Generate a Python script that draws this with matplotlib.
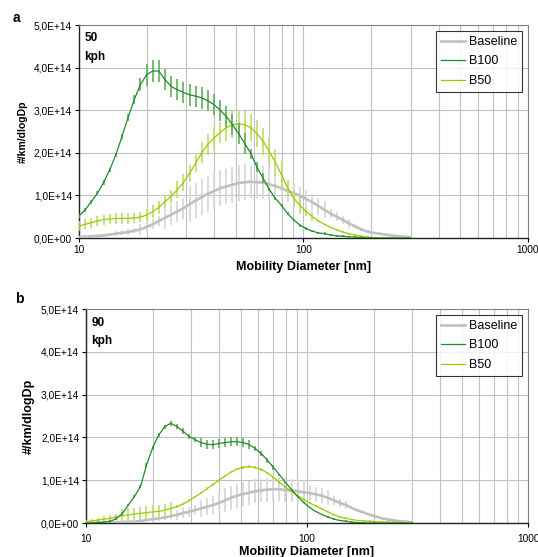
import matplotlib
matplotlib.use("Agg")
import matplotlib.pyplot as plt

plt.rcParams['font.family'] = ['Liberation Sans', 'DejaVu Sans']

# mobility diameter bins [nm]
diam = [10.0, 10.65, 11.34, 12.08, 12.86, 13.70, 14.59, 15.54, 16.55, 17.63,
        18.77, 19.99, 21.29, 22.68, 24.15, 25.72, 27.39, 29.17, 31.07, 33.09,
        35.24, 37.53, 39.97, 42.57, 45.33, 48.28, 51.42, 54.76, 58.32, 62.11,
        66.15, 70.45, 75.03, 79.90, 85.10, 90.63, 96.52, 102.8, 109.5, 116.6,
        124.2, 132.2, 140.8, 150.0, 159.7, 170.1, 181.2, 192.9, 205.5, 218.8,
        233.1, 248.2, 264.4, 281.5, 299.8]

# panel a (50 kph), values in 1E+14 #/km/dlogDp
a_base = [0.02, 0.03, 0.04, 0.05, 0.06, 0.08, 0.10, 0.12, 0.14, 0.17,
          0.20, 0.26, 0.32, 0.40, 0.47, 0.55, 0.62, 0.70, 0.79, 0.88,
          0.96, 1.04, 1.10, 1.17, 1.21, 1.25, 1.29, 1.31, 1.32, 1.31,
          1.30, 1.26, 1.22, 1.17, 1.10, 1.05, 0.99, 0.92, 0.84, 0.75,
          0.66, 0.57, 0.50, 0.42, 0.34, 0.27, 0.20, 0.15, 0.12, 0.10,
          0.08, 0.06, 0.04, 0.03, 0.01]
a_b100 = [0.52, 0.66, 0.85, 1.05, 1.30, 1.60, 1.95, 2.38, 2.83, 3.25,
          3.60, 3.83, 3.92, 3.92, 3.72, 3.56, 3.48, 3.42, 3.36, 3.33,
          3.29, 3.22, 3.13, 3.00, 2.85, 2.66, 2.45, 2.22, 1.98, 1.66,
          1.40, 1.14, 0.93, 0.76, 0.57, 0.42, 0.30, 0.22, 0.16, 0.12,
          0.10, 0.07, 0.05, 0.04, 0.03, 0.02, 0.01, 0.005, 0.0, 0.0,
          0.0, 0.0, 0.0, 0.0, 0.0]
a_b50 = [0.28, 0.32, 0.36, 0.40, 0.43, 0.45, 0.46, 0.46, 0.46, 0.47,
         0.49, 0.54, 0.62, 0.72, 0.85, 0.98, 1.13, 1.30, 1.52, 1.75,
         2.00, 2.20, 2.35, 2.48, 2.59, 2.66, 2.68, 2.66, 2.59, 2.45,
         2.27, 2.03, 1.77, 1.48, 1.17, 0.93, 0.76, 0.62, 0.50, 0.40,
         0.32, 0.25, 0.19, 0.14, 0.10, 0.07, 0.04, 0.02, 0.01, 0.0,
         0.0, 0.0, 0.0, 0.0, 0.0]
a_base_err = [0.03, 0.03, 0.03, 0.03, 0.03, 0.03, 0.06, 0.06, 0.06, 0.06,
              0.12, 0.12, 0.12, 0.12, 0.25, 0.25, 0.25, 0.25, 0.42, 0.42,
              0.42, 0.42, 0.42, 0.42, 0.42, 0.42, 0.42, 0.42, 0.38, 0.38,
              0.38, 0.38, 0.25, 0.25, 0.25, 0.25, 0.20, 0.20, 0.20, 0.20,
              0.20, 0.10, 0.10, 0.10, 0.10, 0.03, 0.03, 0.03, 0.03, 0.03,
              0.03, 0.03, 0.03, 0.03, 0.03]
a_b100_err = [0.05, 0.05, 0.05, 0.05, 0.05, 0.05, 0.05, 0.05, 0.08, 0.10,
              0.15, 0.25, 0.25, 0.25, 0.25, 0.25, 0.25, 0.25, 0.25, 0.25,
              0.25, 0.25, 0.25, 0.25, 0.25, 0.25, 0.25, 0.25, 0.12, 0.12,
              0.12, 0.03, 0.03, 0.03, 0.03, 0.03, 0.03, 0.03, 0.03, 0.03,
              0.03, 0.02, 0.02, 0.02, 0.02, 0.02, 0.02, 0.0, 0.0, 0.0,
              0.0, 0.0, 0.0, 0.0, 0.0]
a_b50_err = [0.12, 0.12, 0.12, 0.12, 0.12, 0.12, 0.12, 0.12, 0.12, 0.12,
             0.12, 0.15, 0.15, 0.15, 0.15, 0.15, 0.20, 0.20, 0.20, 0.20,
             0.25, 0.25, 0.25, 0.25, 0.32, 0.32, 0.32, 0.32, 0.32, 0.32,
             0.32, 0.32, 0.32, 0.32, 0.20, 0.20, 0.20, 0.10, 0.10, 0.02,
             0.02, 0.02, 0.02, 0.02, 0.02, 0.02, 0.02, 0.02, 0.02, 0.02,
             0.02, 0.02, 0.02, 0.02, 0.02]

# panel b (90 kph)
b_base = [0.0, 0.0, 0.01, 0.01, 0.01, 0.02, 0.02, 0.03, 0.03, 0.05,
          0.07, 0.09, 0.11, 0.13, 0.16, 0.19, 0.23, 0.26, 0.30, 0.34,
          0.38, 0.42, 0.47, 0.53, 0.59, 0.64, 0.68, 0.71, 0.74, 0.76,
          0.78, 0.79, 0.79, 0.77, 0.76, 0.74, 0.72, 0.70, 0.67, 0.64,
          0.59, 0.53, 0.47, 0.42, 0.35, 0.29, 0.24, 0.19, 0.15, 0.11,
          0.08, 0.06, 0.04, 0.03, 0.01]
b_b100 = [0.0, 0.0, 0.01, 0.02, 0.04, 0.10, 0.22, 0.42, 0.62, 0.85,
          1.35, 1.75, 2.05, 2.25, 2.33, 2.26, 2.15, 2.03, 1.95, 1.88,
          1.84, 1.83, 1.86, 1.88, 1.90, 1.90, 1.88, 1.83, 1.74, 1.62,
          1.47, 1.30, 1.13, 0.95, 0.78, 0.62, 0.48, 0.36, 0.27, 0.20,
          0.14, 0.09, 0.06, 0.04, 0.02, 0.01, 0.005, 0.0, 0.0, 0.0,
          0.0, 0.0, 0.0, 0.0, 0.0]
b_b50 = [0.03, 0.05, 0.07, 0.09, 0.11, 0.14, 0.17, 0.19, 0.21, 0.23,
         0.24, 0.26, 0.27, 0.30, 0.34, 0.38, 0.44, 0.52, 0.61, 0.70,
         0.80, 0.90, 1.00, 1.10, 1.19, 1.26, 1.30, 1.32, 1.30, 1.25,
         1.17, 1.07, 0.95, 0.84, 0.74, 0.64, 0.55, 0.47, 0.40, 0.33,
         0.26, 0.19, 0.14, 0.11, 0.08, 0.06, 0.05, 0.04, 0.03, 0.03,
         0.02, 0.02, 0.01, 0.01, 0.0]
b_base_err = [0.02, 0.02, 0.02, 0.02, 0.02, 0.02, 0.02, 0.02, 0.02, 0.02,
              0.02, 0.06, 0.06, 0.06, 0.06, 0.12, 0.12, 0.12, 0.12, 0.20,
              0.20, 0.20, 0.20, 0.28, 0.28, 0.28, 0.28, 0.28, 0.28, 0.28,
              0.28, 0.28, 0.28, 0.28, 0.28, 0.28, 0.28, 0.18, 0.18, 0.18,
              0.18, 0.10, 0.10, 0.10, 0.03, 0.03, 0.03, 0.03, 0.03, 0.03,
              0.03, 0.03, 0.03, 0.03, 0.03]
b_b100_err = [0.03, 0.03, 0.03, 0.03, 0.03, 0.03, 0.03, 0.03, 0.03, 0.03,
              0.05, 0.05, 0.05, 0.05, 0.06, 0.06, 0.06, 0.06, 0.06, 0.10,
              0.10, 0.10, 0.10, 0.10, 0.10, 0.10, 0.10, 0.10, 0.06, 0.06,
              0.06, 0.06, 0.02, 0.02, 0.02, 0.02, 0.02, 0.02, 0.02, 0.02,
              0.02, 0.02, 0.02, 0.02, 0.02, 0.02, 0.02, 0.0, 0.0, 0.0,
              0.0, 0.0, 0.0, 0.0, 0.0]
b_b50_err = [0.04, 0.04, 0.04, 0.08, 0.08, 0.08, 0.15, 0.15, 0.15, 0.15,
             0.15, 0.15, 0.15, 0.15, 0.15, 0.03, 0.03, 0.03, 0.03, 0.03,
             0.03, 0.03, 0.03, 0.03, 0.03, 0.03, 0.03, 0.03, 0.03, 0.03,
             0.03, 0.03, 0.03, 0.03, 0.03, 0.03, 0.03, 0.03, 0.03, 0.03,
             0.03, 0.02, 0.02, 0.02, 0.02, 0.02, 0.02, 0.02, 0.02, 0.02,
             0.02, 0.02, 0.02, 0.02, 0.02]

yticks = [0, 1, 2, 3, 4, 5]
ytick_labels = ["0,0E+00", "1,0E+14", "2,0E+14", "3,0E+14", "4,0E+14", "5,0E+14"]
xticks = [10, 100, 1000]
xtick_labels = ["10", "100", "1000"]

c_base, c_base_e = "#c0c0c0", "#d9d9d9"
c_b100, c_b100_e = "#1f8a2e", "#5fae5a"
c_b50, c_b50_e = "#99cc00", "#bcdd6a"


def panel(ax, base, b100, b50, base_e, b100_e, b50_e, speed, ylab_size, xpad):
    ax.errorbar(diam, base, yerr=base_e, fmt="none", ecolor=c_base_e, elinewidth=1.3, capsize=0, zorder=2)
    ax.plot(diam, base, color=c_base, lw=1.9, label="Baseline", zorder=3)
    ax.errorbar(diam, b50, yerr=b50_e, fmt="none", ecolor=c_b50_e, elinewidth=1.2, capsize=0, zorder=4)
    ax.plot(diam, b50, color=c_b50, lw=0.9, label="B50", zorder=5)
    ax.errorbar(diam, b100, yerr=b100_e, fmt="none", ecolor=c_b100_e, elinewidth=1.2, capsize=0, zorder=6)
    ax.plot(diam, b100, color=c_b100, lw=0.9, label="B100", zorder=7)

    ax.set_xscale("log")
    ax.set_xlim(10, 1000)
    ax.set_ylim(0, 5)
    ax.set_xticks(xticks)
    ax.set_xticklabels(xtick_labels)
    ax.set_yticks(yticks)
    ax.set_yticklabels(ytick_labels)
    ax.grid(which="both", axis="x", color="#c0c0c0", lw=0.8, zorder=0)
    ax.grid(which="major", axis="y", color="#c0c0c0", lw=0.8, zorder=0)
    ax.set_axisbelow(True)
    ax.tick_params(which="major", direction="out", length=3, width=0.8, labelsize=7.3, pad=2)
    ax.tick_params(axis="x", which="major", pad=xpad)
    ax.tick_params(which="minor", length=0)
    for s in ["top", "right"]:
        ax.spines[s].set_color("#808080")
        ax.spines[s].set_linewidth(0.8)
    for s in ["left", "bottom"]:
        ax.spines[s].set_color("#222222")
        ax.spines[s].set_linewidth(1.0)

    ax.set_xlabel("Mobility Diameter [nm]", fontsize=9, fontweight="bold", labelpad=4 - (xpad - 2))
    ax.set_ylabel("#/km/dlogDp", fontsize=ylab_size, fontweight="bold")
    ax.text(0.012, 0.965, speed, transform=ax.transAxes, fontsize=8.5, fontweight="bold",
            va="top", ha="left", linespacing=1.75)

    h, l = ax.get_legend_handles_labels()
    order = [0, 2, 1]
    leg = ax.legend([h[i] for i in order], [l[i] for i in order], loc="upper right",
                    fontsize=9, frameon=True, fancybox=False, edgecolor="black",
                    handlelength=1.9, borderaxespad=0.45, labelspacing=0.6,
                    handletextpad=0.3, borderpad=0.42)
    leg.get_frame().set_linewidth(0.8)
    leg.set_zorder(10)


fig = plt.figure(figsize=(5.38, 5.57), dpi=100)
ax1 = fig.add_axes([0.1468, 0.5727, 0.8346, 0.3824])
ax2 = fig.add_axes([0.1599, 0.0610, 0.8216, 0.3842])

panel(ax1, a_base, a_b100, a_b50, a_base_err, a_b100_err, a_b50_err, "50\nkph", 7.5, 2)
panel(ax2, b_base, b_b100, b_b50, b_base_err, b_b100_err, b_b50_err, "90\nkph", 9, 5)

fig.text(0.024, 0.967, "a", fontsize=10, fontweight="bold", va="center")
fig.text(0.028, 0.464, "b", fontsize=10, fontweight="bold", va="center")

fig.savefig("out.png", dpi=100)
